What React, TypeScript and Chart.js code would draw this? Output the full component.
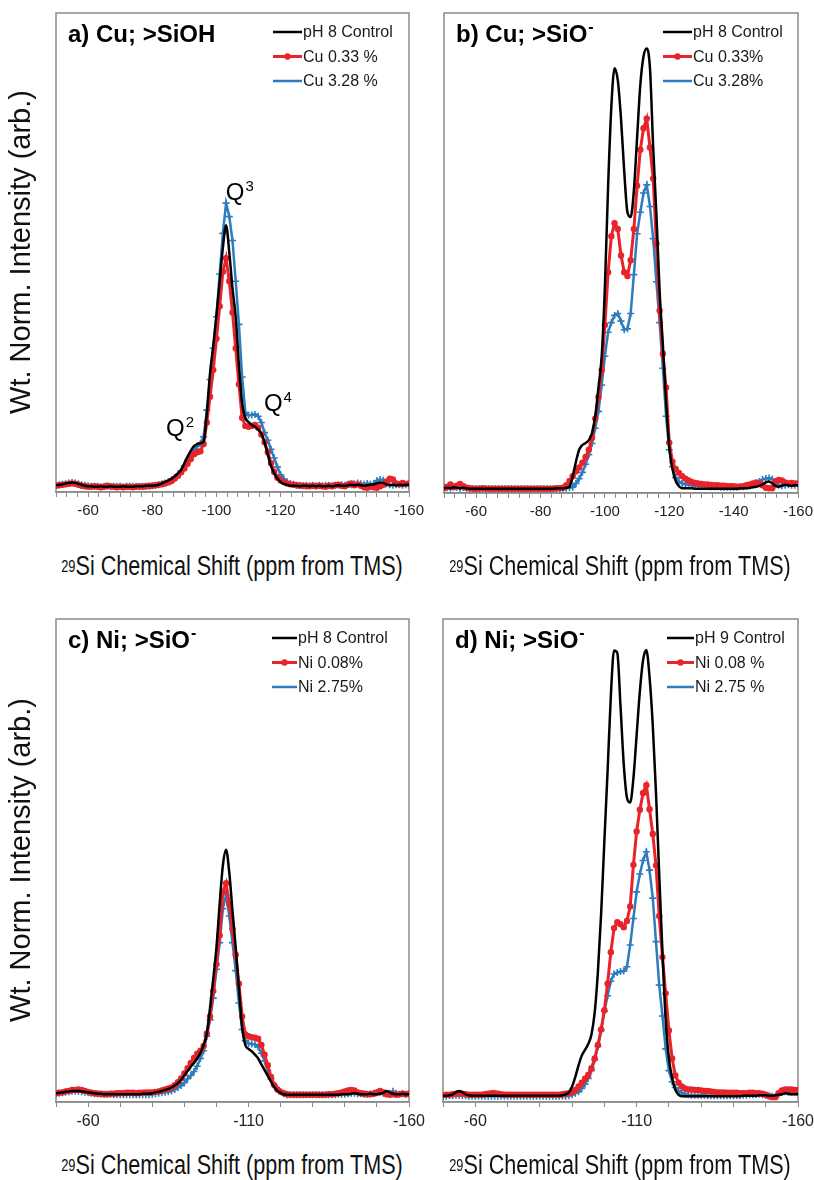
import React, { useEffect, useRef } from "react";
import { Chart, registerables } from "chart.js";

Chart.register(...registerables);

// ---------- data (ppm axis shared by all series) ----------
const PPM = [
  -50, -51, -52, -53, -54, -55, -56, -57, -58, -59,
  -60, -61, -62, -63, -64, -65, -66, -67, -68, -69,
  -70, -71, -72, -73, -74, -75, -76, -77, -78, -79,
  -80, -81, -82, -83, -84, -85, -86, -87, -88, -89,
  -90, -91, -92, -93, -94, -95, -96, -97, -98, -99,
  -100, -101, -102, -103, -104, -105, -106, -107, -108, -109,
  -110, -111, -112, -113, -114, -115, -116, -117, -118, -119,
  -120, -121, -122, -123, -124, -125, -126, -127, -128, -129,
  -130, -131, -132, -133, -134, -135, -136, -137, -138, -139,
  -140, -141, -142, -143, -144, -145, -146, -147, -148, -149,
  -150, -151, -152, -153, -154, -155, -156, -157, -158, -159,
  -160,
];

// a) Cu; >SiOH
const A_CTRL = [
  1.4, 1.5, 1.6, 1.8, 1.9, 2.0, 1.9, 1.7, 1.5, 1.3,
  1.2, 1.2, 1.1, 1.1, 1.2, 1.1, 1.1, 1.2, 1.1, 1.1,
  1.1, 1.2, 1.1, 1.1, 1.1, 1.2, 1.2, 1.2, 1.3, 1.3,
  1.3, 1.4, 1.5, 1.8, 2.1, 2.4, 2.8, 3.3, 3.9, 4.6,
  6.0, 7.4, 8.6, 9.6, 10.0, 10.2, 10.5, 16.4, 24.8, 30.5,
  37.0, 44.0, 51.0, 55.7, 50.0, 42.5, 36.5, 26.5, 18.5, 15.5,
  14.6, 14.0, 13.6, 13.0, 12.2, 10.3, 7.8, 5.4, 3.9, 2.8,
  2.1, 1.7, 1.5, 1.3, 1.3, 1.3, 1.2, 1.3, 1.3, 1.2,
  1.3, 1.2, 1.3, 1.2, 1.2, 1.3, 1.2, 1.3, 1.4, 1.3,
  1.3, 1.4, 1.5, 1.4, 1.5, 1.4, 1.3, 1.4, 1.5, 1.6,
  1.8, 2.0, 1.9, 1.6, 1.4, 1.5, 1.4, 1.5, 1.4, 1.5,
  1.5,
];
const A_LOW = [
  1.3, 1.4, 1.5, 1.6, 1.7, 1.8, 1.7, 1.5, 1.3, 1.2,
  1.1, 1.1, 1.2, 1.1, 1.0, 1.1, 1.3, 1.2, 1.1, 1.0,
  1.1, 1.0, 1.1, 1.1, 1.0, 1.1, 1.2, 1.1, 1.2, 1.2,
  1.3, 1.4, 1.5, 1.6, 1.8, 2.0, 2.3, 2.8, 3.4, 4.1,
  4.9, 5.9, 6.9, 7.9, 8.3, 8.5, 10.0, 14.5, 19.9, 25.5,
  32.0, 38.8, 46.0, 48.8, 44.0, 37.5, 30.0, 22.5, 15.5, 13.8,
  13.6, 13.8, 14.0, 13.4, 12.0, 10.4, 8.3, 6.0, 4.2, 3.0,
  2.4, 2.1, 1.8, 1.6, 1.5, 1.4, 1.3, 1.3, 1.2, 1.2,
  1.3, 1.2, 1.3, 1.2, 1.1, 1.3, 1.2, 1.4, 1.5, 1.3,
  1.2, 1.5, 1.8, 1.4, 1.6, 1.3, 1.0, 0.9, 1.1, 1.0,
  0.9, 1.2, 1.5, 2.2, 2.8, 2.6, 1.8, 1.6, 1.9, 1.7,
  1.8,
];
const A_HIGH = [
  1.4, 1.5, 1.6, 1.7, 1.9, 2.0, 1.9, 1.7, 1.5, 1.4,
  1.3, 1.2, 1.2, 1.2, 1.1, 1.2, 1.2, 1.1, 1.2, 1.2,
  1.2, 1.1, 1.2, 1.2, 1.2, 1.2, 1.1, 1.2, 1.2, 1.3,
  1.3, 1.4, 1.5, 1.7, 1.9, 2.2, 2.5, 3.0, 3.6, 4.4,
  5.4, 6.6, 7.6, 8.6, 9.5, 10.2, 11.5, 17.1, 23.5, 30.0,
  36.6, 45.5, 54.0, 60.3, 57.5, 52.5, 44.0, 35.0, 24.0, 16.6,
  16.0, 16.1, 16.2, 15.8, 14.5, 12.4, 10.8, 8.9, 7.1, 5.2,
  3.6, 2.7, 2.1, 1.8, 1.6, 1.4, 1.4, 1.3, 1.4, 1.3,
  1.4, 1.3, 1.4, 1.3, 1.4, 1.4, 1.3, 1.4, 1.4, 1.5,
  1.4, 1.6, 1.5, 1.7, 1.9, 1.7, 1.6, 1.8, 1.6, 1.7,
  2.4, 2.6, 2.5, 1.7, 1.5, 1.4, 1.5, 1.5, 1.4, 1.5,
  1.4,
];

// b) Cu; >SiO-
const B_CTRL = [
  1.0, 1.1, 1.0, 1.2, 1.1, 1.0, 1.1, 1.0, 0.9, 0.9,
  0.9, 0.9, 0.9, 0.9, 0.9, 0.9, 0.9, 0.9, 0.9, 0.9,
  0.9, 0.9, 0.9, 0.9, 0.9, 0.9, 0.9, 0.9, 0.9, 0.9,
  0.9, 0.9, 0.9, 0.9, 0.9, 1.0, 1.0, 1.0, 1.1, 1.3,
  3.5, 6.5, 9.0, 10.0, 10.4, 11.0, 12.5, 16.0, 22.0, 28.5,
  43.0, 64.0, 80.5, 88.5, 86.0, 78.0, 67.0, 58.5, 57.5, 63.0,
  74.0, 85.0, 91.0, 92.6, 88.5, 72.0, 58.0, 42.0, 31.0, 19.0,
  9.5, 5.0, 2.5, 1.4, 1.0, 1.0, 1.0, 1.0, 0.9, 0.9,
  0.9, 0.9, 0.9, 0.9, 0.9, 0.9, 0.9, 0.9, 0.9, 0.9,
  0.9, 0.9, 1.0, 1.0, 1.0, 1.1, 1.2, 1.3, 1.5, 1.8,
  2.2, 2.4, 2.0, 1.5, 1.3, 1.5, 1.7, 1.6, 1.5, 1.6,
  1.6,
];
const B_LOW = [
  1.0, 1.3, 1.8, 1.2, 1.5, 1.9, 1.4, 1.1, 1.0, 0.9,
  0.9, 0.9, 1.0, 0.9, 0.9, 0.9, 0.9, 0.9, 0.9, 0.9,
  0.9, 0.9, 0.9, 0.9, 0.9, 0.9, 0.9, 0.9, 0.9, 0.9,
  0.9, 0.9, 0.9, 0.9, 0.9, 1.0, 1.0, 1.1, 1.6, 2.5,
  3.5, 4.5, 5.3, 6.3, 7.5, 9.0, 11.5, 15.5, 20.0, 25.6,
  35.0, 46.0, 53.5, 56.2, 55.0, 49.5, 46.0, 45.2, 48.5, 55.0,
  64.0, 71.5, 76.0, 78.0, 72.0, 65.5, 52.0, 38.0, 29.0, 22.0,
  10.5, 6.5, 5.0, 4.2, 3.5, 3.0, 2.6, 2.3, 2.1, 2.0,
  1.9, 1.8, 1.8, 1.7, 1.6, 1.6, 1.5, 1.5, 1.4, 1.4,
  1.4, 1.3, 1.3, 1.4, 1.6, 1.8, 2.0, 2.2, 2.0, 1.6,
  1.1, 1.0, 1.0, 2.4, 2.7, 2.6, 2.2, 2.0, 2.1, 2.0,
  2.0,
];
const B_HIGH = [
  1.2, 1.1, 1.0, 1.3, 1.2, 1.0, 1.1, 1.0, 0.9, 0.9,
  0.9, 0.9, 0.9, 0.9, 0.9, 0.9, 0.9, 0.9, 0.9, 0.9,
  0.9, 0.9, 0.9, 0.9, 0.9, 0.9, 0.9, 0.9, 0.9, 0.9,
  0.9, 0.9, 0.9, 0.9, 0.9, 0.9, 0.9, 1.0, 1.0, 1.1,
  1.2, 2.0, 3.0, 4.3, 6.0, 8.0, 10.3, 13.5, 17.0, 22.5,
  28.5, 33.5, 35.5, 37.0, 37.4, 35.8, 34.0, 34.2, 37.4, 45.5,
  54.0, 58.5, 62.5, 64.2, 59.7, 53.0, 44.0, 35.5, 26.0, 16.0,
  9.0, 5.5, 3.2, 2.4, 2.0, 1.8, 1.7, 1.6, 1.5, 1.5,
  1.4, 1.4, 1.4, 1.3, 1.3, 1.3, 1.2, 1.2, 1.2, 1.2,
  1.2, 1.2, 1.3, 1.3, 1.4, 1.5, 1.7, 2.0, 2.4, 2.8,
  3.0, 3.1, 2.9, 1.9, 1.6, 1.5, 1.6, 1.7, 1.6, 1.6,
  1.7,
];

// c) Ni; >SiO-
const C_CTRL = [
  1.8, 1.9, 2.0, 2.1, 2.2, 2.3, 2.3, 2.3, 2.2, 2.1,
  2.0, 1.9, 1.8, 1.7, 1.7, 1.6, 1.6, 1.6, 1.6, 1.6,
  1.6, 1.6, 1.6, 1.6, 1.6, 1.6, 1.6, 1.7, 1.7, 1.7,
  1.8, 2.0, 2.1, 2.3, 2.5, 2.7, 3.0, 3.4, 3.9, 4.6,
  5.5, 6.4, 7.3, 8.1, 9.0, 10.2, 11.8, 14.2, 19.5, 25.5,
  32.0, 41.0, 49.0, 52.2, 47.5, 39.5, 32.0, 23.5, 15.5, 11.8,
  11.0, 10.5, 9.8, 9.0, 7.8, 6.6, 5.4, 4.2, 3.1, 2.3,
  1.9, 1.6, 1.5, 1.5, 1.5, 1.5, 1.5, 1.5, 1.5, 1.5,
  1.5, 1.5, 1.5, 1.5, 1.5, 1.5, 1.5, 1.5, 1.5, 1.6,
  1.6, 1.6, 1.7, 1.8, 1.7, 1.6, 1.6, 1.6, 1.7, 1.6,
  1.6, 1.7, 1.9, 2.3, 2.0, 1.7, 1.6, 1.6, 1.7, 1.6,
  1.6,
];
const C_LOW = [
  1.8, 1.9, 2.0, 2.2, 2.3, 2.5, 2.5, 2.6, 2.5, 2.3,
  2.1, 1.9, 1.8, 1.7, 1.7, 1.6, 1.6, 1.7, 1.7, 1.8,
  1.8, 1.8, 1.9, 1.9, 1.9, 1.8, 1.9, 1.9, 2.0, 2.0,
  2.0, 2.1, 2.2, 2.4, 2.6, 2.8, 3.0, 3.5, 4.1, 4.9,
  5.9, 7.0, 8.1, 9.1, 10.0, 10.6, 11.6, 14.2, 17.7, 23.0,
  28.5, 34.5, 43.5, 45.3, 41.0, 35.8, 30.5, 24.5, 17.7, 14.0,
  13.6, 13.4, 13.3, 13.1, 11.8, 9.8, 7.6, 5.2, 3.5, 2.6,
  2.1, 1.8, 1.6, 1.5, 1.5, 1.5, 1.5, 1.5, 1.5, 1.5,
  1.5, 1.5, 1.5, 1.5, 1.5, 1.6, 1.6, 1.7, 1.8, 2.0,
  2.2, 2.4, 2.5, 2.4, 2.0, 1.8, 1.7, 1.6, 1.6, 1.7,
  2.0, 2.3, 2.0, 1.6, 1.5, 1.6, 1.5, 1.6, 1.7, 1.6,
  1.7,
];
const C_HIGH = [
  1.7, 1.8, 1.9, 2.0, 2.1, 2.2, 2.2, 2.2, 2.1, 2.0,
  1.9, 1.8, 1.7, 1.7, 1.6, 1.6, 1.6, 1.6, 1.5, 1.5,
  1.5, 1.5, 1.5, 1.5, 1.5, 1.5, 1.5, 1.5, 1.5, 1.5,
  1.6, 1.7, 1.8, 1.9, 2.0, 2.1, 2.3, 2.6, 3.0, 3.4,
  4.0, 4.8, 5.5, 6.3, 7.4, 9.0, 10.6, 13.6, 17.0, 21.5,
  27.5, 33.0, 40.0, 42.9, 38.5, 33.0, 27.2, 20.5, 15.0, 12.7,
  12.1, 12.0, 11.9, 11.4, 10.1, 8.5, 6.5, 4.8, 3.5, 2.6,
  2.1, 1.7, 1.5, 1.5, 1.5, 1.5, 1.5, 1.5, 1.5, 1.5,
  1.5, 1.5, 1.5, 1.5, 1.5, 1.5, 1.5, 1.5, 1.6, 1.6,
  1.6, 1.7, 1.8, 1.8, 1.7, 1.7, 1.6, 1.6, 1.7, 1.8,
  1.9, 2.0, 1.8, 1.7, 1.8, 2.2, 1.8, 1.6, 1.7, 1.6,
  1.7,
];

// d) Ni; >SiO-
const D_CTRL = [
  1.3, 1.3, 1.4, 1.6, 2.0, 2.3, 2.0, 1.6, 1.4, 1.3,
  1.3, 1.3, 1.3, 1.3, 1.3, 1.3, 1.3, 1.3, 1.3, 1.3,
  1.3, 1.3, 1.3, 1.3, 1.3, 1.3, 1.3, 1.3, 1.3, 1.3,
  1.3, 1.3, 1.3, 1.3, 1.3, 1.3, 1.3, 1.4, 1.6, 2.0,
  3.2, 5.2, 7.6, 9.6, 10.8, 12.0, 14.0, 18.5, 27.0, 39.0,
  54.0, 68.5, 84.0, 93.5, 93.0, 82.0, 70.0, 63.0, 62.0, 67.0,
  76.0, 85.0, 91.5, 93.6, 88.0, 78.0, 64.0, 47.0, 31.0, 17.0,
  9.0, 5.0, 2.5, 1.5, 1.2, 1.2, 1.2, 1.2, 1.2, 1.2,
  1.2, 1.2, 1.2, 1.2, 1.2, 1.2, 1.2, 1.2, 1.2, 1.2,
  1.2, 1.2, 1.2, 1.3, 1.3, 1.3, 1.3, 1.3, 1.4, 1.4,
  1.4, 1.3, 1.3, 1.4, 1.5, 1.6, 1.8, 1.7, 1.6, 1.6,
  1.6,
];
const D_LOW = [
  1.4, 1.5, 1.5, 1.6, 1.7, 1.8, 1.7, 1.6, 1.5, 1.5,
  1.5, 1.5, 1.5, 1.6, 1.7, 1.8, 1.8, 1.7, 1.6, 1.5,
  1.5, 1.5, 1.5, 1.5, 1.5, 1.5, 1.5, 1.5, 1.5, 1.5,
  1.5, 1.5, 1.5, 1.5, 1.5, 1.5, 1.5, 1.6, 1.7, 1.8,
  2.0, 2.5, 3.2, 4.0, 4.8, 5.6, 7.0, 9.0, 11.8, 15.0,
  19.0, 24.5, 31.0, 36.0, 37.2, 36.8, 36.2, 37.5, 40.5, 49.1,
  56.0, 60.5, 64.0, 65.6, 60.6, 55.5, 49.0, 38.5, 30.0, 22.5,
  14.8, 9.0, 5.5, 4.0, 3.2, 2.8, 2.6, 2.6, 2.5, 2.5,
  2.4, 2.3, 2.3, 2.2, 2.1, 2.0, 2.0, 2.0, 1.9, 1.9,
  1.9, 1.9, 1.8, 1.8, 1.8, 1.9, 1.9, 1.8, 1.8, 1.7,
  1.5, 1.2, 1.0, 1.0, 1.8, 2.4, 2.6, 2.6, 2.6, 2.5,
  2.5,
];
const D_HIGH = [
  1.2, 1.2, 1.3, 1.3, 1.4, 1.4, 1.3, 1.3, 1.2, 1.2,
  1.2, 1.2, 1.2, 1.2, 1.2, 1.2, 1.2, 1.2, 1.2, 1.2,
  1.2, 1.2, 1.2, 1.2, 1.2, 1.2, 1.2, 1.2, 1.2, 1.2,
  1.2, 1.2, 1.2, 1.2, 1.2, 1.2, 1.2, 1.2, 1.2, 1.3,
  1.5, 1.8, 2.1, 2.8, 3.7, 4.9, 6.5, 8.7, 11.5, 14.8,
  18.8, 22.0, 25.0, 26.5, 26.8, 27.0, 27.1, 28.0, 32.5, 38.0,
  43.5, 47.2, 50.0, 51.8, 48.0, 42.2, 33.2, 24.2, 17.8, 11.0,
  6.5, 4.2, 3.0, 2.3, 1.9, 1.6, 1.5, 1.4, 1.4, 1.4,
  1.4, 1.4, 1.3, 1.3, 1.3, 1.3, 1.3, 1.3, 1.3, 1.3,
  1.3, 1.3, 1.3, 1.4, 1.4, 1.5, 1.5, 1.5, 1.6, 1.5,
  1.4, 1.3, 1.2, 1.2, 1.6, 2.0, 2.1, 2.0, 2.0, 2.0,
  2.0,
];

const TICK_LABELS_AB = [-60, -80, -100, -120, -140, -160];
const TICK_LABELS_CD = [-60, -110, -160];

const LEGEND_A = ["pH 8 Control", "Cu 0.33 %", "Cu 3.28 %"];
const LEGEND_B = ["pH 8 Control", "Cu 0.33%", "Cu 3.28%"];
const LEGEND_C = ["pH 8 Control", "Ni 0.08%", "Ni 2.75%"];
const LEGEND_D = ["pH 9 Control", "Ni 0.08 %", "Ni 2.75 %"];

// peak annotations for panel a (position in data coordinates)
const Q_LABELS = [
  { sup: "2", ppm: -84.3, val: 11.7 },
  { sup: "3", ppm: -102.9, val: 61.0 },
  { sup: "4", ppm: -114.8, val: 16.9 },
];

const BLACK = "#000000";
const RED = "#e8232a";
const BLUE = "#2e7cc0";
const FONT = '"Liberation Sans", Arial, Helvetica, sans-serif';

type Box = { left: number; top: number; right: number; bottom: number };
type PanelDef = {
  box: Box;
  title: string;
  titleSup: string;
  legend: string[];
  series: number[][];
  step: number;
  tickLabels: number[];
  tickSize: number;
  legendRight: number;
  legendLine: number;
  q: boolean;
};

const PANELS: PanelDef[] = [
  {
    box: { left: 56, top: 13, right: 409, bottom: 492 },
    title: "a) Cu; >SiOH", titleSup: "", legend: LEGEND_A,
    series: [A_CTRL, A_LOW, A_HIGH], step: 20 / 6, tickLabels: TICK_LABELS_AB, tickSize: 15,
    legendRight: 136, legendLine: 29, q: true,
  },
  {
    box: { left: 444, top: 13, right: 798, bottom: 493 },
    title: "b) Cu; >SiO", titleSup: "-", legend: LEGEND_B,
    series: [B_CTRL, B_LOW, B_HIGH], step: 20 / 6, tickLabels: TICK_LABELS_AB, tickSize: 15,
    legendRight: 135, legendLine: 29, q: false,
  },
  {
    box: { left: 56, top: 619, right: 409, bottom: 1102 },
    title: "c) Ni; >SiO", titleSup: "-", legend: LEGEND_C,
    series: [C_CTRL, C_LOW, C_HIGH], step: 10, tickLabels: TICK_LABELS_CD, tickSize: 16,
    legendRight: 137, legendLine: 25, q: false,
  },
  {
    box: { left: 443, top: 619, right: 798, bottom: 1102 },
    title: "d) Ni; >SiO", titleSup: "-", legend: LEGEND_D,
    series: [D_CTRL, D_LOW, D_HIGH], step: 10, tickLabels: TICK_LABELS_CD, tickSize: 16,
    legendRight: 131, legendLine: 27, q: false,
  },
];

const PAD_L = 24;
const PAD_R = 24;
const PAD_T = 10;
const AXIS_H = 30;
const PAD_B = 8;

function PanelChart({ def }: { def: PanelDef }) {
  const ref = useRef<HTMLCanvasElement | null>(null);
  const w = def.box.right - def.box.left + PAD_L + PAD_R;
  const h = def.box.bottom - def.box.top + PAD_T + AXIS_H + PAD_B;

  useEffect(() => {
    if (!ref.current) return;
    const toPts = (arr: number[]) => PPM.map((x, i) => ({ x, y: arr[i] }));
    const [ctrl, low, high] = def.series;

    const decor = {
      id: "decor",
      beforeDatasetsDraw(chart: any) {
        const { ctx, chartArea: ca } = chart;
        ctx.save();
        ctx.strokeStyle = "#8a8a8a";
        ctx.lineWidth = 1.5;
        ctx.strokeRect(ca.left, ca.top, ca.right - ca.left, ca.bottom - ca.top);
        ctx.restore();
      },
      afterDraw(chart: any) {
        const { ctx, chartArea: ca, scales } = chart;
        ctx.save();
        // title
        ctx.fillStyle = "#000";
        ctx.textBaseline = "alphabetic";
        ctx.textAlign = "left";
        ctx.font = `bold 24px ${FONT}`;
        const tx = ca.left + 12;
        const ty = ca.top + 29;
        ctx.fillText(def.title, tx, ty);
        if (def.titleSup) {
          const tw = ctx.measureText(def.title).width;
          ctx.font = `bold 16px ${FONT}`;
          ctx.fillText(def.titleSup, tx + tw + 1, ty - 10);
        }
        // legend
        const colors = [BLACK, RED, BLUE];
        const x0 = ca.right - def.legendRight;
        ctx.font = `16px ${FONT}`;
        ctx.textBaseline = "middle";
        def.legend.forEach((label, i) => {
          const y = ca.top + 19 + i * 24.5;
          ctx.strokeStyle = colors[i];
          ctx.lineWidth = i === 1 ? 3 : 2.5;
          ctx.beginPath();
          ctx.moveTo(x0, y);
          ctx.lineTo(x0 + def.legendLine, y);
          ctx.stroke();
          if (i === 1) {
            ctx.fillStyle = RED;
            ctx.beginPath();
            ctx.arc(x0 + def.legendLine / 2, y, 3.2, 0, Math.PI * 2);
            ctx.fill();
          }
          ctx.fillStyle = "#1a1a1a";
          ctx.fillText(label, x0 + def.legendLine + 1, y + 1);
        });
        // Q annotations
        if (def.q) {
          ctx.textBaseline = "alphabetic";
          Q_LABELS.forEach((q) => {
            const px = scales.x.getPixelForValue(q.ppm);
            const py = scales.y.getPixelForValue(q.val);
            ctx.fillStyle = "#000";
            ctx.font = `24px ${FONT}`;
            ctx.fillText("Q", px, py);
            const qw = ctx.measureText("Q").width;
            ctx.font = `15px ${FONT}`;
            ctx.fillText(q.sup, px + qw + 1, py - 9);
          });
        }
        ctx.restore();
      },
    };

    const chart = new Chart(ref.current, {
      type: "line",
      data: {
        datasets: [
          {
            label: def.legend[0],
            data: toPts(ctrl),
            borderColor: BLACK,
            borderWidth: 2.5,
            pointRadius: 0,
            cubicInterpolationMode: "monotone",
          },
          {
            label: def.legend[1],
            data: toPts(low),
            borderColor: RED,
            backgroundColor: RED,
            borderWidth: 3,
            pointRadius: 3.2,
            pointStyle: "circle",
            pointBackgroundColor: RED,
            pointBorderColor: RED,
            pointBorderWidth: 0,
          },
          {
            label: def.legend[2],
            data: toPts(high),
            borderColor: BLUE,
            backgroundColor: BLUE,
            borderWidth: 2.5,
            pointRadius: 3.5,
            pointStyle: "cross",
            pointBorderColor: BLUE,
            pointBorderWidth: 1.6,
          },
        ],
      },
      options: {
        responsive: false,
        maintainAspectRatio: false,
        animation: false,
        events: [],
        layout: { padding: { left: PAD_L, right: PAD_R, top: PAD_T, bottom: PAD_B } },
        plugins: { legend: { display: false }, tooltip: { enabled: false } },
        scales: {
          x: {
            type: "linear",
            min: -160,
            max: -50,
            reverse: true,
            afterFit: (s: any) => {
              s.height = AXIS_H;
            },
            border: { display: true, color: "#8a8a8a", width: 1.5 },
            grid: {
              drawOnChartArea: false,
              drawTicks: true,
              tickLength: 5,
              color: "#8a8a8a",
              lineWidth: 1,
            },
            ticks: {
              stepSize: def.step,
              autoSkip: false,
              maxRotation: 0,
              minRotation: 0,
              padding: 5,
              color: "#222",
              font: { family: FONT, size: def.tickSize },
              callback: (v: any) => {
                const x = Number(v);
                const n = Math.round(x);
                return Math.abs(x - n) < 0.01 && def.tickLabels.includes(n) ? String(n) : "";
              },
            },
          },
          y: { display: false, min: 0, max: 100 },
        },
      },
      plugins: [decor],
    } as any);
    return () => chart.destroy();
  }, [def]);

  return (
    <canvas
      ref={ref}
      width={w}
      height={h}
      style={{
        position: "absolute",
        left: def.box.left - PAD_L,
        top: def.box.top - PAD_T,
        width: w,
        height: h,
      }}
    />
  );
}

function XTitle({ cx, cy }: { cx: number; cy: number }) {
  return (
    <div
      style={{
        position: "absolute",
        left: cx,
        top: cy,
        transform: "translate(-50%, -50%) scaleX(0.8)",
        whiteSpace: "nowrap",
        fontFamily: FONT,
        fontSize: 27,
        lineHeight: "30px",
        color: "#111",
      }}
    >
      <span style={{ fontSize: 16, verticalAlign: "top", position: "relative", top: 1 }}>29</span>
      Si Chemical Shift (ppm from TMS)
    </div>
  );
}

function YTitle({ cx, cy }: { cx: number; cy: number }) {
  return (
    <div
      style={{
        position: "absolute",
        left: cx,
        top: cy,
        transform: "translate(-50%, -50%) rotate(-90deg)",
        whiteSpace: "nowrap",
        fontFamily: FONT,
        fontSize: 29,
        lineHeight: "30px",
        color: "#111",
      }}
    >
      Wt. Norm. Intensity (arb.)
    </div>
  );
}

export default function App() {
  return (
    <div
      style={{
        position: "absolute",
        left: 0,
        top: 0,
        width: 814,
        height: 1180,
        background: "#fff",
        overflow: "hidden",
      }}
    >
      {PANELS.map((p, i) => (
        <PanelChart key={i} def={p} />
      ))}
      <YTitle cx={20} cy={252} />
      <YTitle cx={20} cy={860} />
      <XTitle cx={232} cy={566} />
      <XTitle cx={620} cy={566} />
      <XTitle cx={232} cy={1165} />
      <XTitle cx={620} cy={1165} />
    </div>
  );
}
